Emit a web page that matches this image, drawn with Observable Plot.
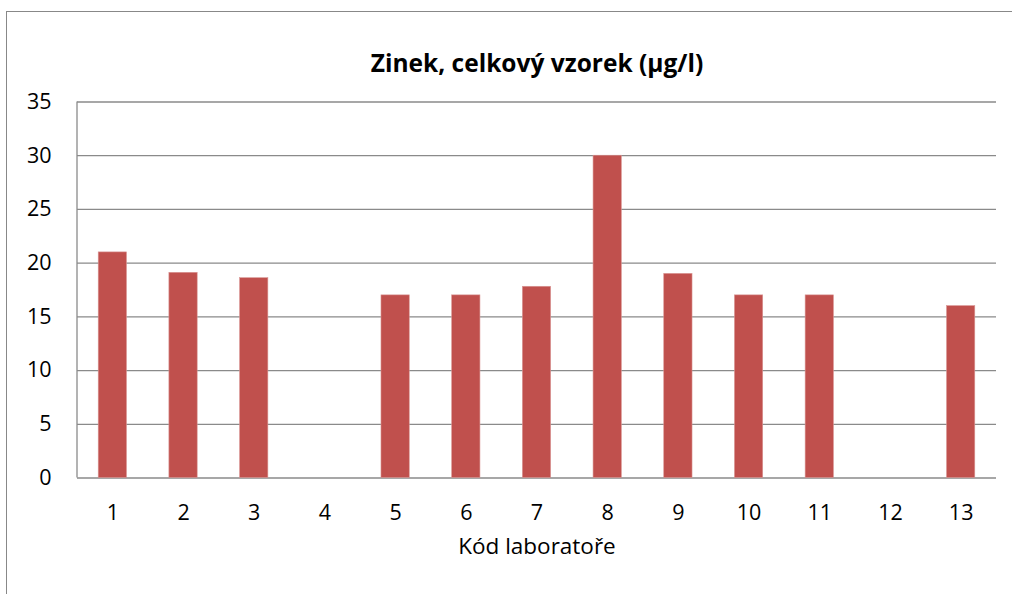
<!DOCTYPE html>
<html>
<head>
<meta charset="utf-8">
<script src="https://cdn.jsdelivr.net/npm/d3@7"></script>
<script src="https://cdn.jsdelivr.net/npm/@observablehq/plot@0.6"></script>
<style>
  html, body { margin: 0; padding: 0; background: #fff; }
  #wrap { position: relative; width: 1012px; height: 594px; overflow: hidden; background: #fff; }
  #border { position: absolute; left: 6px; top: 11px; width: 1020px; height: 600px; border: 1.5px solid #888; box-sizing: border-box; }
  #chart { position: absolute; left: 0; top: 0; }
  #chart svg { display: block; }
</style>
</head>
<body>
<div id="wrap">
  <div id="border"></div>
  <div id="chart"></div>
</div>
<script>
const labCodes = ["1","2","3","4","5","6","7","8","9","10","11","12","13"];
const zincValues = [21, 19.1, 18.6, null, 17, 17, 17.8, 30, 19, 17, 17, null, 16];
const yTicks = [0, 5, 10, 15, 20, 25, 30, 35];
const titleText = "Zinek, celkový vzorek (µg/l)";
const xLabelText = "Kód laboratoře";

const data = labCodes.map((c, i) => ({code: c, value: zincValues[i]})).filter(d => d.value != null);

const font = "'Open Sans', Lato, sans-serif";
const gridColor = "#8a8a8a";

const leftLine = (index, scales, values, dims) => {
  const g = d3.create("svg:g");
  g.append("line")
    .attr("x1", dims.marginLeft).attr("x2", dims.marginLeft)
    .attr("y1", dims.marginTop).attr("y2", dims.height - dims.marginBottom)
    .attr("stroke", gridColor).attr("stroke-width", 1.3);
  return g.node();
};

const chart = Plot.plot({
  width: 1012,
  height: 594,
  marginLeft: 77,
  marginRight: 16,
  marginTop: 101.5,
  marginBottom: 116.5,
  style: {fontFamily: font, background: "transparent", overflow: "visible"},
  x: {type: "band", domain: labCodes, paddingInner: 0.6, paddingOuter: 0.3, round: false, label: null},
  y: {domain: [0, 35], label: null},
  marks: [
    Plot.ruleY(yTicks, {stroke: gridColor, strokeWidth: 1.3}),
    leftLine,
    Plot.barY(data, {x: "code", y: "value", fill: "#C0504D", stroke: "#D99694", strokeWidth: 0.6}),
    Plot.axisY(yTicks, {tickSize: 0, tickPadding: 26, fontSize: 21.5, fill: "#000", label: null, fontFamily: font}),
    Plot.axisX(labCodes, {tickSize: 0, tickPadding: 27, fontSize: 21.5, fill: "#000", label: null, fontFamily: font}),
    Plot.text([titleText], {frameAnchor: "top", dy: -47, text: d => d, fontSize: 24.5, fontWeight: "bold", fill: "#000", fontFamily: font}),
    Plot.text([xLabelText], {frameAnchor: "bottom", dy: 76, text: d => d, fontSize: 22.5, fill: "#000", fontFamily: font})
  ]
});
document.getElementById("chart").appendChild(chart);
</script>
</body>
</html>
